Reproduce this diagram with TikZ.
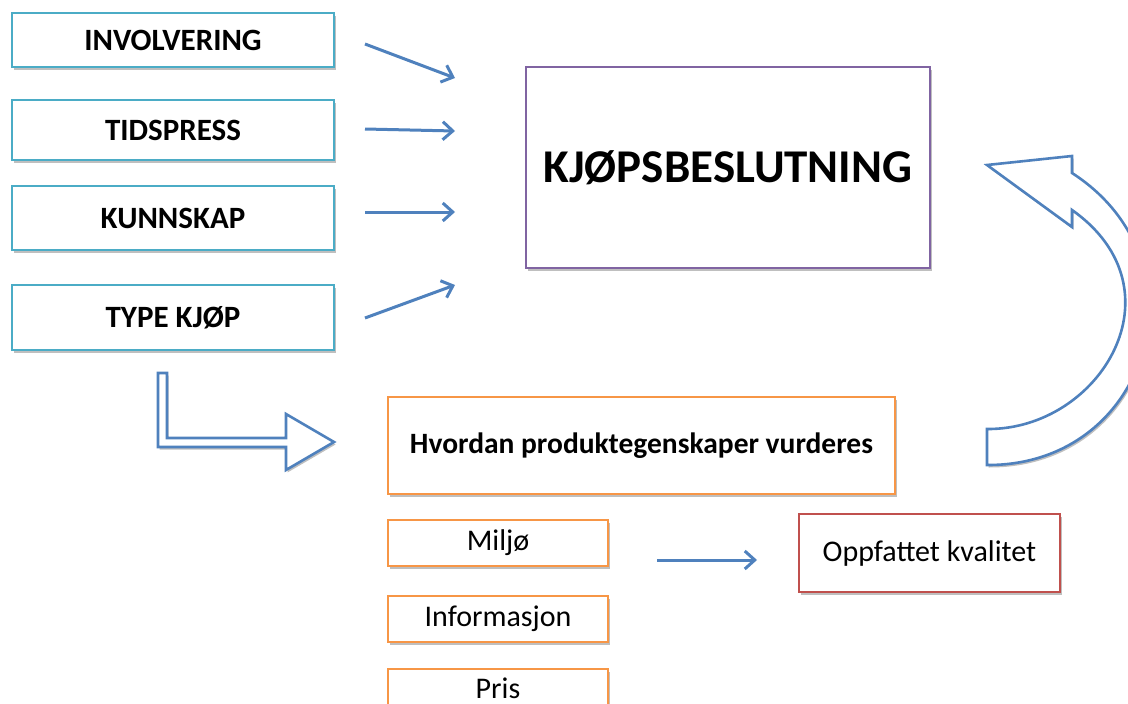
\documentclass[tikz,border=0pt]{standalone}
\usepackage{fontspec}
\setmainfont{Carlito}
\usetikzlibrary{arrows.meta,shadows}
\definecolor{factorcyan}{HTML}{4BACC6}
\definecolor{decisionpurple}{HTML}{8064A2}
\definecolor{attrorange}{HTML}{F79646}
\definecolor{qualityred}{HTML}{C0504D}
\definecolor{arrowblue}{HTML}{4F81BD}
\begin{document}
\begin{tikzpicture}[x=1pt,y=-1pt,
		boxshadow/.style={drop shadow={shadow xshift=1.5pt,shadow yshift=-2.5pt,opacity=0.25,fill=black}}]
		\tikzstyle{factor}=[draw=factorcyan,line width=2.4pt,fill=white,minimum width=322pt,font=\fontsize{31}{35}\selectfont\bfseries,boxshadow]
		\tikzstyle{decision}=[draw=decisionpurple,line width=2.4pt,fill=white,minimum width=404pt,minimum height=201pt,font=\fontsize{47}{52}\selectfont\bfseries,boxshadow]
		\tikzstyle{attr}=[draw=attrorange,line width=2.4pt,fill=white,minimum width=220pt,minimum height=46pt,font=\fontsize{30}{34}\selectfont,boxshadow]
		\tikzstyle{quality}=[draw=qualityred,line width=2.4pt,fill=white,minimum width=261pt,minimum height=78pt,font=\fontsize{30}{34}\selectfont,boxshadow]
		\tikzstyle{arrow}=[draw=arrowblue,line width=3pt,-{Straight Barb[length=10pt,width=18pt,line width=3pt]}]
		\tikzstyle{blockarrow}=[draw=arrowblue,line width=2.6pt,fill=white,line join=miter,boxshadow]
		\useasboundingbox (0,0) rectangle (1128,704);
		
		% factors on the left
		\node[factor,minimum height=54pt] (involv) at (173,40) {INVOLVERING};
		\node[factor,minimum height=60pt] (tidspress) at (173,130) {TIDSPRESS};
		\node[factor,minimum height=64pt] (kunnskap) at (173,218) {KUNNSKAP};
		\node[factor,minimum height=65pt] (typekjop) at (173,317.5) {TYPE KJØP};
		
		\node[decision] (beslut) at (728,167.5) {KJØPSBESLUTNING};
		
		\node[draw=attrorange,line width=2.4pt,fill=white,minimum width=507pt,minimum height=97pt,font=\fontsize{29.5}{34}\selectfont\bfseries,boxshadow] (hvordan) at (641.5,445.5) {Hvordan produktegenskaper vurderes};
		
		\node[attr] (miljo) at (498,543) {Miljø};
		\node[attr] (info) at (498,619) {Informasjon};
		\node[attr,minimum height=38pt] (pris) at (498,688) {Pris};
		\node[quality] (oppf) at (929.5,553) {Oppfattet kvalitet};
		
		% free arrows
		\foreach \i/\xa/\ya/\xb/\yb in {1/365/44/455/78,2/365/129/455/131,3/365/212/455/212,4/365/318/455/285,5/657/560/757/560}
		{\coordinate (s\i) at (\xa,\ya);
			\coordinate (e\i) at (\xb,\yb);
			\path[arrow] (s\i) -- (e\i);}
		
		% bent block arrow
		\path[blockarrow] (158,373) -- (167,373) -- (167,438) -- (286,438) -- (286,414) -- (334,442) -- (286,470) -- (286,447) -- (158,447) -- cycle;
		
		% curved block arrow back to the decision
		\path[blockarrow] (987,429) .. controls (1100,430) and (1185,290) .. (1072,210) -- (1072,227) -- (987,165) -- (1072,156) -- (1072,173) .. controls (1210,262) and (1150,466) .. (987,465) -- cycle;
		
\end{tikzpicture}
\end{document}
